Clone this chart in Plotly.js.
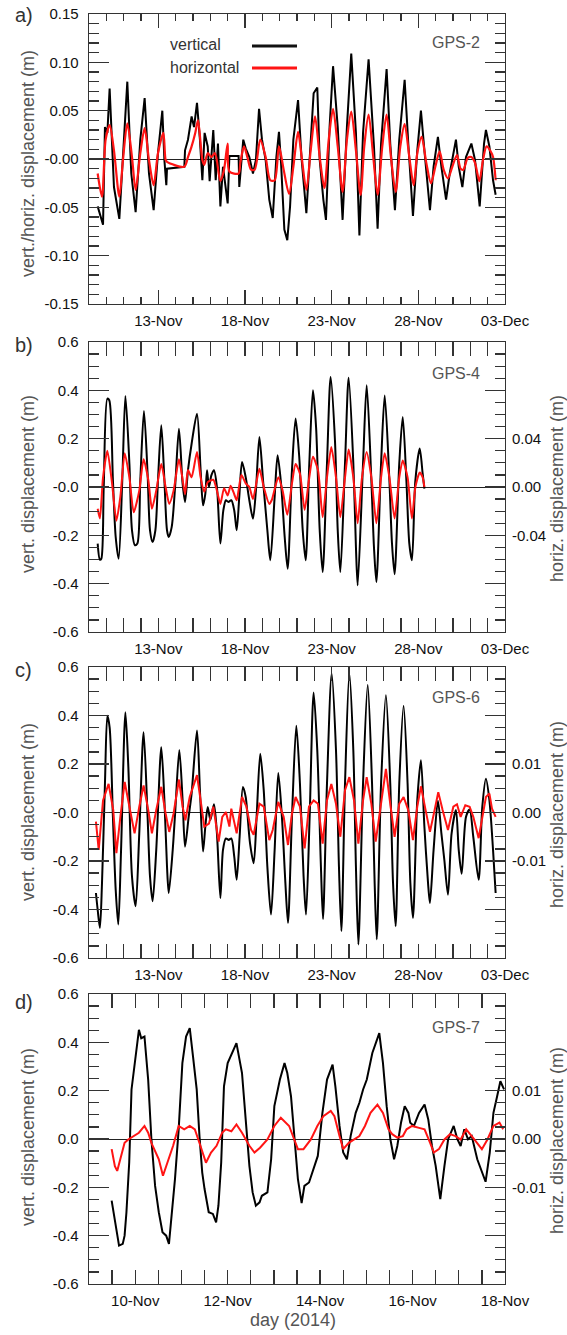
<!DOCTYPE html>
<html><head><meta charset="utf-8">
<script src="https://cdn.plot.ly/plotly-3.0.1.min.js"></script>
<style>html,body{margin:0;padding:0;background:#fff}#chart{width:567px;height:1335px}</style>
</head><body><div id="chart"></div>
<script>
// ---- data: time = day of November 2014 (fractional; >30 means December) ----
// Panel a, GPS-2
const gps2_t_vert = [9.50,9.81,9.92,10.06,10.19,10.44,10.75,10.96,11.21,11.44,11.69,11.96,12.21,12.46,12.73,12.98,13.23,13.35,13.46,13.50,14.50,14.54,14.71,14.92,15.06,15.23,15.40,15.54,15.67,15.85,15.96,16.17,16.31,16.44,16.58,16.73,17.00,17.10,17.63,17.67,17.79,17.90,18.04,18.25,18.46,18.63,18.81,18.98,19.19,19.40,19.60,19.81,19.96,20.08,20.27,20.44,20.60,20.79,21.06,21.27,21.54,21.79,21.96,22.17,22.31,22.52,22.67,22.88,23.08,23.35,23.63,23.88,24.13,24.40,24.60,24.81,25.13,25.44,25.65,25.85,26.17,26.38,26.65,26.90,27.21,27.42,27.69,27.94,28.15,28.35,28.67,28.88,29.13,29.33,29.60,29.81,30.17,30.33,30.54,30.75,31.06,31.27,31.54,31.79,31.90,32.10,32.31,32.46];
const gps2_vert = [-0.049,-0.068,0.033,0.027,0.073,-0.029,-0.062,0.009,0.080,-0.015,-0.055,0.020,0.063,-0.015,-0.053,0.006,0.050,-0.001,-0.027,-0.010,-0.008,0.009,0.020,0.044,0.033,0.058,0.020,-0.022,0.027,0.013,-0.023,0.030,-0.022,0.016,-0.049,-0.008,-0.046,0.003,0.003,-0.029,0.002,0.020,0.011,0.002,-0.015,-0.001,0.052,0.020,-0.001,-0.042,-0.061,0.002,0.028,-0.004,-0.073,-0.084,-0.049,0.020,0.061,-0.001,-0.056,0.020,0.068,0.074,-0.001,-0.042,-0.063,0.033,0.096,0.033,-0.063,0.033,0.109,0.027,-0.079,0.027,0.103,0.013,-0.072,0.016,0.093,0.016,-0.053,0.020,0.082,0.016,-0.059,0.009,0.050,0.009,-0.053,-0.008,0.023,-0.008,-0.042,-0.015,0.020,-0.008,-0.029,0.002,0.016,-0.001,-0.049,0.016,0.030,0.013,-0.022,-0.037];
const gps2_t_horiz = [9.50,9.75,9.96,10.19,10.44,10.75,10.96,11.21,11.48,11.69,11.96,12.21,12.46,12.73,12.98,13.29,13.42,13.50,14.50,14.71,14.92,15.13,15.29,15.54,15.65,15.85,16.06,16.27,16.58,16.79,17.00,17.10,17.63,17.73,17.94,18.15,18.35,18.56,18.88,19.19,19.46,19.71,19.96,20.23,20.54,20.79,21.06,21.27,21.54,21.79,22.04,22.31,22.58,22.83,23.08,23.35,23.63,23.88,24.13,24.40,24.67,24.88,25.13,25.40,25.65,25.92,26.17,26.42,26.69,26.96,27.21,27.48,27.73,27.94,28.19,28.46,28.73,28.98,29.23,29.46,29.71,29.96,30.23,30.44,30.60,30.85,31.06,31.27,31.52,31.73,31.94,32.17,32.31,32.46];
const gps2_horiz = [-0.015,-0.039,0.020,0.035,0.009,-0.039,-0.001,0.037,0.002,-0.032,0.006,0.032,-0.001,-0.027,0.006,0.027,-0.001,-0.003,-0.008,0.002,0.013,0.027,0.040,-0.001,-0.006,0.006,0.002,0.006,-0.023,-0.011,0.016,-0.013,-0.015,-0.004,0.013,0.001,-0.011,-0.011,0.020,0.002,-0.022,-0.022,0.013,-0.011,-0.036,-0.008,0.028,0.002,-0.032,0.009,0.044,0.002,-0.030,0.020,0.052,0.013,-0.034,0.020,0.049,0.009,-0.037,0.013,0.046,0.002,-0.037,0.013,0.046,0.002,-0.034,0.013,0.036,0.002,-0.027,0.006,0.023,-0.004,-0.025,-0.008,0.008,-0.011,-0.020,-0.008,0.004,-0.010,-0.011,0.001,0.002,-0.004,-0.023,-0.001,0.013,0.008,0.002,-0.022];

// Panel b, GPS-4 (horizontal on right axis)
const gps4_t_vert = [9.50,9.63,9.71,9.85,10.06,10.17,10.38,10.54,10.71,10.92,11.10,11.33,11.48,11.65,11.79,11.96,12.17,12.38,12.52,12.67,12.83,12.98,13.17,13.35,13.50,13.60,13.77,13.98,14.19,14.40,14.54,14.71,14.92,15.23,15.44,15.58,15.71,15.81,15.92,16.06,16.21,16.38,16.58,16.75,16.90,17.04,17.21,17.38,17.52,17.67,17.83,18.04,18.25,18.46,18.63,18.83,19.04,19.29,19.46,19.71,19.88,20.08,20.29,20.46,20.71,20.92,21.13,21.33,21.50,21.71,21.92,22.10,22.31,22.48,22.73,22.94,23.19,23.35,23.50,23.77,23.98,24.25,24.40,24.50,24.81,25.02,25.29,25.44,25.58,25.85,26.06,26.33,26.48,26.63,26.90,27.10,27.31,27.48,27.63,27.83,28.08,28.25,28.35];
const gps4_vert = [-0.234,-0.301,-0.297,0.000,0.366,0.359,0.028,-0.207,-0.297,0.028,0.377,0.097,-0.179,-0.241,-0.234,0.028,0.314,0.055,-0.179,-0.228,-0.179,0.028,0.255,0.028,-0.179,-0.207,-0.166,0.014,0.241,0.014,-0.062,0.069,0.179,0.303,0.069,-0.076,-0.028,0.069,0.000,0.048,0.069,0.000,-0.234,-0.097,-0.055,-0.062,-0.055,-0.097,-0.179,-0.041,0.103,0.041,-0.055,-0.131,-0.014,0.207,0.028,-0.179,-0.303,-0.041,0.131,0.014,-0.207,-0.338,0.069,0.283,0.124,-0.179,-0.303,0.097,0.400,0.248,-0.179,-0.352,0.097,0.455,0.193,-0.179,-0.352,0.097,0.452,0.097,-0.248,-0.407,0.097,0.421,0.028,-0.248,-0.393,0.097,0.379,0.028,-0.234,-0.361,0.097,0.290,0.028,-0.234,-0.303,0.028,0.159,0.055,-0.007];
const gps4_t_horiz = [9.50,9.63,9.81,10.06,10.33,10.58,10.81,11.06,11.33,11.58,11.90,12.15,12.42,12.63,12.88,13.17,13.42,13.63,13.88,14.19,14.35,14.54,14.71,14.92,15.23,15.44,15.65,15.85,16.17,16.38,16.58,16.79,17.00,17.17,17.38,17.52,17.79,18.04,18.25,18.46,18.83,19.08,19.40,19.54,19.92,20.17,20.44,20.71,20.92,21.17,21.44,21.69,21.92,22.21,22.48,22.73,22.98,23.25,23.50,23.77,23.98,24.25,24.50,24.75,25.02,25.29,25.58,25.85,26.06,26.33,26.63,26.90,27.10,27.38,27.63,27.83,28.08,28.25,28.35];
const gps4_horiz = [-0.018,-0.026,0.008,0.030,0.003,-0.028,-0.008,0.028,0.008,-0.021,-0.003,0.023,0.006,-0.018,-0.003,0.019,0.000,-0.014,-0.003,0.023,0.011,-0.006,0.014,0.008,0.029,0.008,-0.004,0.004,0.006,-0.003,-0.014,-0.001,-0.007,0.001,-0.006,-0.011,0.010,0.003,0.000,-0.010,0.015,0.000,-0.014,-0.011,0.008,-0.003,-0.023,0.003,0.019,0.011,-0.019,0.006,0.025,0.014,-0.025,0.008,0.033,0.008,-0.025,0.008,0.031,0.008,-0.030,0.008,0.029,0.008,-0.030,0.008,0.028,0.008,-0.026,0.008,0.022,0.008,-0.026,0.000,0.012,0.008,0.000];

// Panel c, GPS-6
const gps6_t_vert = [9.40,9.50,9.63,9.75,9.92,10.06,10.19,10.38,10.54,10.69,10.85,11.10,11.27,11.48,11.69,11.90,12.15,12.38,12.52,12.67,12.88,13.17,13.35,13.50,13.60,13.83,13.98,14.21,14.40,14.54,14.75,14.92,15.23,15.40,15.58,15.71,15.85,16.00,16.21,16.38,16.58,16.73,16.90,17.06,17.21,17.38,17.52,17.69,17.88,18.04,18.29,18.50,18.67,18.88,19.08,19.29,19.50,19.71,19.92,20.13,20.33,20.48,20.71,20.96,21.17,21.38,21.52,21.73,21.96,22.17,22.38,22.50,22.73,23.00,23.25,23.42,23.56,23.77,24.02,24.25,24.40,24.54,24.81,25.08,25.33,25.48,25.60,25.85,26.13,26.38,26.54,26.69,26.90,27.15,27.38,27.54,27.69,27.94,28.15,28.35,28.56,28.67,28.88,29.13,29.33,29.50,29.71,29.92,30.17,30.33,30.50,30.75,30.96,31.17,31.48,31.69,31.90,32.10,32.31,32.46];
const gps6_vert = [-0.332,-0.401,-0.476,-0.291,0.119,0.399,0.351,-0.018,-0.318,-0.462,-0.154,0.413,0.187,-0.264,-0.387,-0.086,0.331,-0.018,-0.264,-0.366,-0.154,0.269,0.051,-0.223,-0.332,-0.154,0.010,0.258,0.051,-0.141,-0.018,0.078,0.338,0.092,-0.161,-0.059,0.023,-0.031,0.034,-0.086,-0.353,-0.154,-0.107,-0.113,-0.107,-0.182,-0.277,-0.100,0.105,0.064,-0.127,-0.209,-0.018,0.242,0.092,-0.223,-0.421,-0.154,0.163,-0.018,-0.291,-0.455,-0.018,0.358,0.119,-0.264,-0.421,-0.018,0.495,0.256,-0.223,-0.439,0.119,0.573,0.256,-0.223,-0.489,0.119,0.573,0.256,-0.223,-0.544,0.119,0.526,0.119,-0.291,-0.523,0.119,0.484,0.119,-0.291,-0.469,0.119,0.440,0.119,-0.291,-0.435,0.051,0.215,-0.059,-0.291,-0.373,-0.154,0.048,-0.086,-0.195,-0.339,-0.086,0.010,-0.154,-0.253,-0.018,0.012,-0.100,-0.277,0.023,0.139,0.051,-0.154,-0.332];
const gps6_t_horiz = [9.40,9.56,9.81,10.13,10.40,10.58,10.81,11.06,11.33,11.63,11.90,12.15,12.42,12.63,12.88,13.17,13.42,13.63,13.88,14.19,14.40,14.56,14.81,15.23,15.44,15.65,15.92,16.17,16.48,16.69,16.90,17.10,17.21,17.52,17.83,18.08,18.35,18.50,18.83,19.08,19.40,19.60,19.92,20.23,20.48,20.71,20.92,21.17,21.44,21.69,21.96,22.21,22.48,22.73,22.98,23.25,23.50,23.77,24.02,24.29,24.54,24.81,25.02,25.29,25.54,25.85,26.13,26.38,26.63,26.90,27.15,27.42,27.69,27.94,28.15,28.42,28.67,28.94,29.15,29.40,29.71,30.02,30.23,30.44,30.71,30.96,31.17,31.48,31.79,31.90,32.10,32.25,32.46];
const gps6_horiz = [-0.0019,-0.0077,0.0025,0.0059,0.0005,-0.0084,-0.0009,0.0063,0.0012,-0.0043,0.0012,0.0056,0.0005,-0.0043,0.0005,0.0053,-0.0002,-0.0040,-0.0002,0.0068,0.0012,-0.0016,0.0032,0.0077,0.0025,-0.0029,-0.0023,0.0012,-0.0060,-0.0009,0.0001,-0.0029,0.0008,-0.0043,0.0032,0.0012,-0.0036,-0.0046,0.0018,0.0012,-0.0057,-0.0036,0.0022,-0.0009,-0.0067,-0.0002,0.0032,0.0012,-0.0074,0.0012,0.0025,0.0018,-0.0064,0.0025,0.0059,0.0018,-0.0050,0.0046,0.0073,0.0025,-0.0064,0.0025,0.0073,0.0018,-0.0060,0.0025,0.0090,0.0018,-0.0050,0.0018,0.0032,0.0005,-0.0057,0.0012,0.0054,0.0005,-0.0040,0.0005,0.0042,0.0005,-0.0036,0.0012,0.0017,-0.0009,0.0015,0.0012,-0.0009,-0.0053,0.0012,0.0032,0.0039,0.0008,-0.0009];

// Panel d, GPS-7
const gps7_t_vert = [9.49,9.56,9.61,9.65,9.73,9.77,9.81,9.87,9.92,9.98,10.04,10.08,10.13,10.20,10.28,10.35,10.43,10.51,10.59,10.67,10.73,10.78,10.86,10.94,11.02,11.10,11.18,11.25,11.33,11.39,11.45,11.50,11.59,11.68,11.75,11.80,11.86,11.92,12.00,12.19,12.31,12.39,12.47,12.54,12.61,12.69,12.74,12.86,12.94,13.01,13.13,13.23,13.29,13.37,13.44,13.52,13.60,13.66,13.76,13.87,13.95,14.05,14.15,14.27,14.33,14.42,14.50,14.58,14.66,14.77,14.85,14.93,15.01,15.13,15.28,15.36,15.44,15.52,15.60,15.67,15.75,15.83,15.91,15.95,16.03,16.14,16.26,16.34,16.42,16.50,16.60,16.69,16.77,16.89,16.97,17.04,17.12,17.20,17.28,17.40,17.50,17.58,17.67,17.75,17.83,17.90,17.98];
const gps7_vert = [-0.255,-0.331,-0.393,-0.441,-0.434,-0.400,-0.303,-0.097,0.205,0.301,0.397,0.452,0.417,0.424,0.246,-0.001,-0.194,-0.303,-0.386,-0.400,-0.434,-0.331,-0.166,0.040,0.314,0.424,0.459,0.342,0.205,0.012,-0.139,-0.207,-0.303,-0.310,-0.345,-0.276,-0.097,0.218,0.314,0.397,0.273,0.081,-0.111,-0.221,-0.276,-0.262,-0.235,-0.221,-0.084,0.136,0.246,0.314,0.273,0.177,-0.001,-0.166,-0.265,-0.194,-0.180,-0.111,-0.070,0.108,0.246,0.308,0.218,0.054,-0.056,-0.084,0.012,0.108,0.150,0.205,0.246,0.356,0.438,0.314,0.136,-0.001,-0.084,-0.029,0.067,0.136,0.108,0.067,0.054,0.108,0.143,0.081,-0.029,-0.111,-0.249,-0.111,-0.001,0.054,-0.001,-0.029,0.040,-0.001,0.012,-0.084,-0.139,-0.177,-0.056,0.108,0.177,0.239,0.205];
const gps7_t_horiz = [9.49,9.56,9.61,9.69,9.77,9.85,9.96,10.08,10.20,10.28,10.35,10.51,10.60,10.71,10.82,10.94,11.06,11.18,11.29,11.41,11.53,11.64,11.76,11.88,11.96,12.08,12.19,12.31,12.47,12.58,12.70,12.86,13.01,13.15,13.25,13.33,13.44,13.52,13.64,13.80,13.94,14.07,14.23,14.31,14.42,14.50,14.62,14.74,14.85,14.97,15.09,15.24,15.36,15.48,15.56,15.67,15.79,15.87,15.99,16.14,16.26,16.38,16.46,16.57,16.69,16.81,16.93,17.04,17.16,17.28,17.40,17.50,17.62,17.75,17.88,17.96];
const gps7_horiz = [-0.0021,-0.0056,-0.0066,-0.0035,-0.0008,-0.0001,0.0006,0.0013,0.0027,0.0013,-0.0008,-0.0042,-0.0076,-0.0045,-0.0014,0.0027,0.0020,0.0027,0.0020,-0.0014,-0.0049,-0.0028,-0.0014,0.0013,0.0020,0.0016,0.0030,0.0013,-0.0014,-0.0028,-0.0018,-0.0001,0.0027,0.0044,0.0034,0.0027,-0.0001,-0.0021,-0.0021,-0.0001,0.0027,0.0047,0.0058,0.0047,0.0006,-0.0021,-0.0008,-0.0001,0.0006,0.0027,0.0054,0.0071,0.0054,0.0020,0.0010,0.0003,0.0006,0.0020,0.0027,0.0023,0.0020,-0.0008,-0.0028,-0.0021,-0.0001,0.0010,0.0006,-0.0001,0.0020,0.0006,-0.0008,-0.0021,-0.0001,0.0027,0.0034,0.0020];

// ---- tick labels ----
const longTickVals = ['2014-11-13','2014-11-18','2014-11-23','2014-11-28','2014-12-03'];
const longTickText = ['13-Nov','18-Nov','23-Nov','28-Nov','03-Dec'];
const shortTickVals = ['2014-11-10','2014-11-12','2014-11-14','2014-11-16','2014-11-18'];
const shortTickText = ['10-Nov','12-Nov','14-Nov','16-Nov','18-Nov'];
const yTickValsA = [-0.15,-0.10,-0.05,0,0.05,0.10,0.15];
const yTickTextA = ['-0.15','-0.10','-0.05','-0.00','0.05','0.10','0.15'];
const yTickVals = [-0.6,-0.4,-0.2,0,0.2,0.4,0.6];
const yTickTextBC = ['-0.6','-0.4','-0.2','-0.0','0.2','0.4','0.6'];
const yTickTextD = ['-0.6','-0.4','-0.2','0.0','0.2','0.4','0.6'];
const rTickValsB = [-0.04,0,0.04];
const rTickTextB = ['-0.04','0.00','0.04'];
const rTickValsCD = [-0.01,0,0.01];
const rTickTextCD = ['-0.01','0.00','0.01'];

// ---- helpers ----
function toDate(d){
  const ms = Date.UTC(2014,10,1) + (d-1)*86400000;
  return new Date(ms).toISOString().slice(0,19).replace('T',' ');
}
const W = 567, H = 1335;
const FONT = '"Liberation Sans", Arial, Helvetica, sans-serif';
const AXC = '#333';
const fx = p => p / W;
const fy = p => 1 - p / H;

const panels = [
  {top:14, bottom:304},
  {top:342, bottom:632},
  {top:667, bottom:958},
  {top:994, bottom:1284}
];

function xAxis(i, short){
  return {
    type:'date', domain:[fx(89), fx(505)], anchor: i===0 ? 'y' : (i===1 ? 'y2' : (i===2 ? 'y4' : 'y6')),
    range: short ? ['2014-11-09','2014-11-18'] : ['2014-11-09','2014-12-03'],
    tickmode:'array', tickvals: short ? shortTickVals : longTickVals, ticktext: short ? shortTickText : longTickText,
    showline:true, linecolor:AXC, linewidth:1.3, mirror:'allticks',
    ticks:'inside', ticklen:14, tickwidth:1.3, tickcolor:AXC,
    minor:{ticks:'inside', ticklen:7, tickwidth:1.3, tickcolor:AXC, tick0:'2014-11-09', dtick: short ? 43200000 : 86400000, showgrid:false},
    showgrid:false, zeroline:false, ticklabelstandoff:3,
    tickfont:{family:FONT, size:15, color:'#111'}
  };
}
function yAxis(i, anchorX, range, tv, tt, minorD){
  return {
    domain:[fy(panels[i].bottom), fy(panels[i].top)], anchor:anchorX, range:range,
    tickmode:'array', tickvals:tv, ticktext:tt,
    showline:true, linecolor:AXC, linewidth:1.3, mirror:'allticks',
    ticks:'inside', ticklen:20, tickwidth:1.3, tickcolor:AXC,
    minor:{ticks:'inside', ticklen:10, tickwidth:1.3, tickcolor:AXC, tick0:0, dtick:minorD, showgrid:false},
    showgrid:false, zeroline:true, zerolinecolor:'#222', zerolinewidth:1,
    ticklabelstandoff:6,
    tickfont:{family:FONT, size:15, color:'#111'}
  };
}
function rAxis(over, anchorX, range, tv, tt){
  return {
    overlaying:over, anchor:anchorX, side:'right', range:range,
    tickmode:'array', tickvals:tv, ticktext:tt, ticks:'', showline:false,
    showgrid:false, zeroline:false, ticklabelstandoff:6,
    tickfont:{family:FONT, size:15, color:'#111'}
  };
}

const BLACK = '#000000', RED = '#ff1414';
const traces = [
  {x:gps2_t_vert.map(toDate), y:gps2_vert, xaxis:'x', yaxis:'y', mode:'lines', line:{color:BLACK, width:2}, name:'vertical'},
  {x:gps2_t_horiz.map(toDate), y:gps2_horiz, xaxis:'x', yaxis:'y', mode:'lines', line:{color:RED, width:2.2, shape:'spline', smoothing:0.8}, name:'horizontal'},
  {x:gps4_t_vert.map(toDate), y:gps4_vert, xaxis:'x2', yaxis:'y2', mode:'lines', line:{color:BLACK, width:2, shape:'spline', smoothing:0.8}},
  {x:gps4_t_horiz.map(toDate), y:gps4_horiz, xaxis:'x2', yaxis:'y3', mode:'lines', line:{color:RED, width:2, shape:'spline', smoothing:0.6}},
  {x:gps6_t_vert.map(toDate), y:gps6_vert, xaxis:'x3', yaxis:'y4', mode:'lines', line:{color:BLACK, width:2, shape:'spline', smoothing:0.8}},
  {x:gps6_t_horiz.map(toDate), y:gps6_horiz, xaxis:'x3', yaxis:'y5', mode:'lines', line:{color:RED, width:2}},
  {x:gps7_t_vert.map(toDate), y:gps7_vert, xaxis:'x4', yaxis:'y6', mode:'lines', line:{color:BLACK, width:2}},
  {x:gps7_t_horiz.map(toDate), y:gps7_horiz, xaxis:'x4', yaxis:'y7', mode:'lines', line:{color:RED, width:2}}
];

function ann(text, xp, yp, opts){
  return Object.assign({text:text, x:fx(xp), y:fy(yp), xref:'paper', yref:'paper', showarrow:false,
    xanchor:'center', yanchor:'middle', font:{family:FONT, size:16, color:'#555'}}, opts||{});
}
const letterFont = {family:FONT, size:20, color:'#333'};
const titleFont = {family:FONT, size:18, color:'#555'};
const annotations = [
  ann('a)', 13, 15, {xanchor:'left', font:letterFont}),
  ann('b)', 13, 345, {xanchor:'left', font:letterFont}),
  ann('c)', 13, 670, {xanchor:'left', font:letterFont}),
  ann('d)', 13, 1002, {xanchor:'left', font:letterFont}),
  ann('GPS-2', 456, 43),
  ann('GPS-4', 456, 373),
  ann('GPS-6', 456, 697),
  ann('GPS-7', 456, 1027),
  ann('vertical', 168, 45, {xanchor:'left', font:{family:FONT, size:16, color:'#333'}}),
  ann('horizontal', 168, 68, {xanchor:'left', font:{family:FONT, size:16, color:'#333'}}),
  ann('vert./horiz. displacement (m)', 28, 164, {textangle:-90, font:titleFont}),
  ann('vert. displacement (m)', 28, 484, {textangle:-90, font:titleFont}),
  ann('vert. displacement (m)', 28, 812, {textangle:-90, font:titleFont}),
  ann('vert. displacement (m)', 28, 1137, {textangle:-90, font:titleFont}),
  ann('horiz. displacement (m)', 557, 489, {textangle:-90, font:titleFont}),
  ann('horiz. displacement (m)', 557, 815, {textangle:-90, font:titleFont}),
  ann('horiz. displacement (m)', 557, 1141, {textangle:-90, font:titleFont}),
  ann('day (2014)', 293, 1320, {font:titleFont})
];
const shapes = [
  {type:'line', xref:'paper', yref:'paper', x0:fx(252), x1:fx(297), y0:fy(46), y1:fy(46), line:{color:'#111', width:3}},
  {type:'line', xref:'paper', yref:'paper', x0:fx(252), x1:fx(297), y0:fy(68), y1:fy(68), line:{color:RED, width:3}}
];

const layout = {
  width:W, height:H, margin:{l:0, r:0, t:0, b:0}, showlegend:false,
  paper_bgcolor:'#fff', plot_bgcolor:'#fff', font:{family:FONT, color:'#111'},
  xaxis: xAxis(0,false), xaxis2: xAxis(1,false), xaxis3: xAxis(2,false), xaxis4: xAxis(3,true),
  yaxis: yAxis(0,'x',[-0.15,0.15],yTickValsA,yTickTextA,0.01),
  yaxis2: yAxis(1,'x2',[-0.6,0.6],yTickVals,yTickTextBC,0.05),
  yaxis3: rAxis('y2','x2',[-0.12,0.12],rTickValsB,rTickTextB),
  yaxis4: yAxis(2,'x3',[-0.6,0.6],yTickVals,yTickTextBC,0.05),
  yaxis5: rAxis('y4','x3',[-0.03,0.03],rTickValsCD,rTickTextCD),
  yaxis6: yAxis(3,'x4',[-0.6,0.6],yTickVals,yTickTextD,0.05),
  yaxis7: rAxis('y6','x4',[-0.03,0.03],rTickValsCD,rTickTextCD),
  annotations: annotations, shapes: shapes
};
Plotly.newPlot('chart', traces, layout, {staticPlot:true, displayModeBar:false});
</script>
</body></html>
